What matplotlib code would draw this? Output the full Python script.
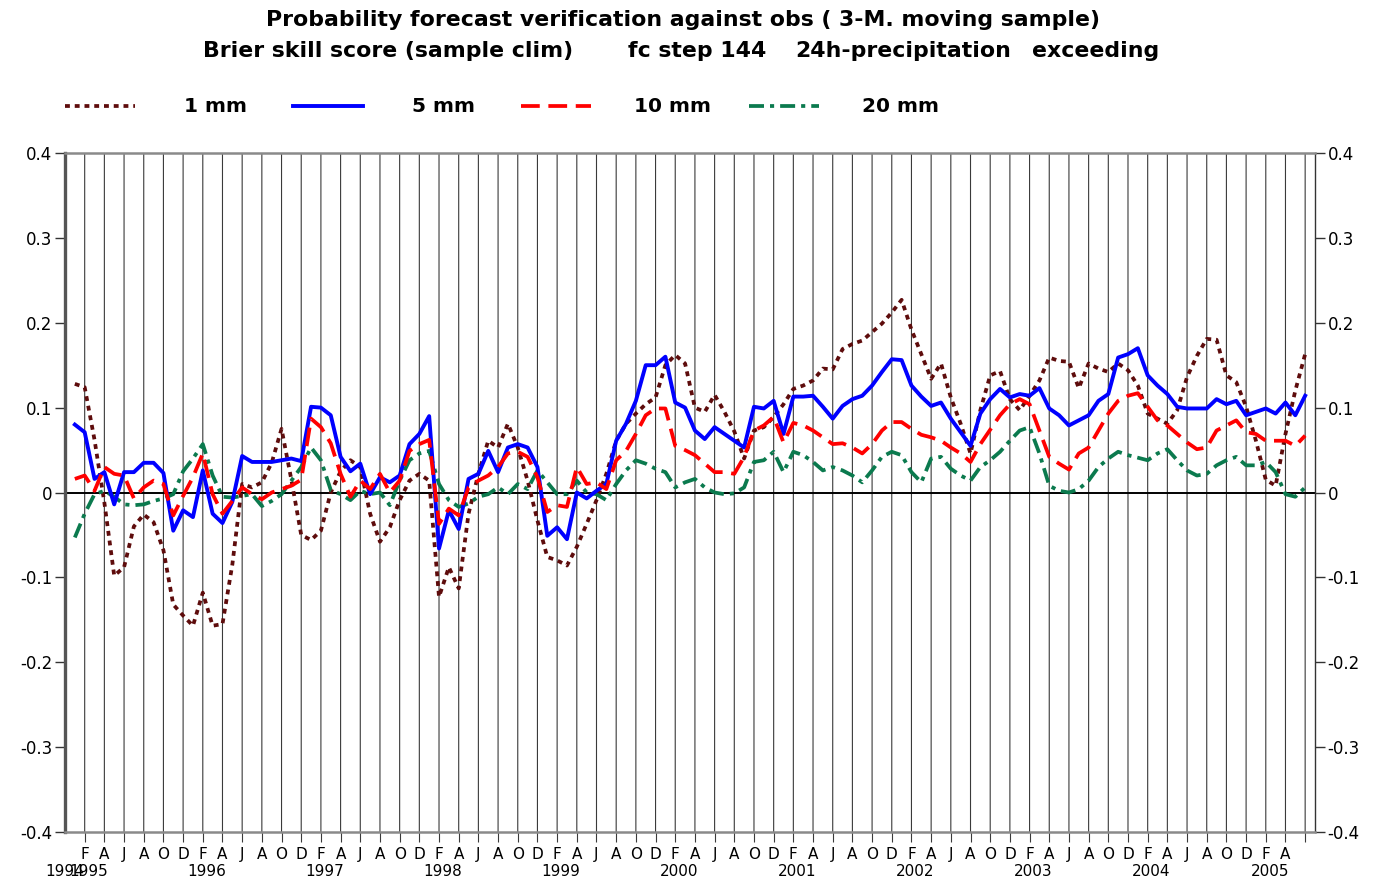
import matplotlib
matplotlib.use('Agg')
import matplotlib.pyplot as plt
import matplotlib.transforms as mtransforms
from matplotlib.lines import Line2D
import numpy as np

plt.rcParams['font.family'] = ['DejaVu Sans']
plt.rcParams['axes.unicode_minus'] = False

# monthly values, Jan 1995 .. Jun 2005 (x = months after Dec 1994)
start_year = 1995
bss_1mm = [
    0.128, 0.124, 0.062, -0.012, -0.098, -0.088, -0.040, -0.026, -0.035, -0.068,
    -0.132, -0.145, -0.157, -0.118, -0.157, -0.155, -0.085, 0.010, 0.006, 0.012,
    0.035, 0.075, 0.015, -0.050, -0.056, -0.045, 0.000, 0.025, 0.038, 0.030,
    -0.025, -0.058, -0.041, -0.009, 0.014, 0.022, 0.014, -0.123, -0.088, -0.113,
    -0.025, 0.022, 0.061, 0.053, 0.081, 0.053, 0.014, -0.033, -0.076, -0.080,
    -0.086, -0.064, -0.037, -0.009, 0.022, 0.061, 0.081, 0.093, 0.104, 0.112,
    0.150, 0.162, 0.152, 0.100, 0.095, 0.115, 0.095, 0.072, 0.040, 0.073,
    0.077, 0.089, 0.104, 0.122, 0.126, 0.132, 0.146, 0.145, 0.169, 0.175,
    0.179, 0.189, 0.199, 0.212, 0.227, 0.192, 0.163, 0.134, 0.152, 0.112,
    0.081, 0.046, 0.097, 0.138, 0.143, 0.110, 0.097, 0.114, 0.132, 0.159,
    0.155, 0.154, 0.123, 0.152, 0.146, 0.142, 0.152, 0.144, 0.126, 0.093,
    0.087, 0.081, 0.097, 0.136, 0.161, 0.181, 0.180, 0.138, 0.130, 0.101,
    0.061, 0.015, 0.008, 0.069, 0.120, 0.163]
bss_5mm = [
    0.080, 0.071, 0.016, 0.024, -0.014, 0.024, 0.024, 0.035, 0.035, 0.023,
    -0.045, -0.021, -0.029, 0.026, -0.025, -0.036, -0.011, 0.043, 0.036, 0.036,
    0.036, 0.038, 0.040, 0.037, 0.101, 0.100, 0.091, 0.042, 0.025, 0.034,
    -0.002, 0.018, 0.012, 0.020, 0.057, 0.069, 0.090, -0.066, -0.021, -0.043,
    0.016, 0.022, 0.049, 0.024, 0.053, 0.057, 0.053, 0.030, -0.051, -0.041,
    -0.055, 0.000, -0.007, 0.002, 0.010, 0.061, 0.081, 0.108, 0.150, 0.150,
    0.160, 0.106, 0.100, 0.073, 0.063, 0.077, 0.069, 0.061, 0.053, 0.101,
    0.099, 0.108, 0.069, 0.113, 0.113, 0.114, 0.101, 0.087, 0.102, 0.110,
    0.114, 0.126, 0.142, 0.157, 0.156, 0.126, 0.113, 0.102, 0.106, 0.087,
    0.071, 0.055, 0.093, 0.110, 0.122, 0.112, 0.116, 0.114, 0.123, 0.099,
    0.091, 0.079, 0.085, 0.091, 0.108, 0.116, 0.159, 0.163, 0.170, 0.138,
    0.126, 0.116, 0.101, 0.099, 0.099, 0.099, 0.110, 0.104, 0.108, 0.091,
    0.095, 0.099, 0.093, 0.106, 0.091, 0.114]
bss_10mm = [
    0.016, 0.020, 0.002, 0.030, 0.022, 0.020, -0.007, 0.006, 0.014, 0.010,
    -0.027, -0.004, 0.018, 0.046, -0.002, -0.025, -0.010, 0.006, -0.002, -0.008,
    0.000, 0.004, 0.008, 0.015, 0.087, 0.077, 0.058, 0.022, -0.005, 0.014,
    0.004, 0.022, 0.000, 0.014, 0.049, 0.057, 0.062, -0.037, -0.019, -0.027,
    0.006, 0.014, 0.020, 0.030, 0.046, 0.048, 0.042, 0.018, -0.023, -0.015,
    -0.017, 0.030, 0.010, 0.012, 0.004, 0.038, 0.049, 0.069, 0.091, 0.099,
    0.099, 0.055, 0.050, 0.044, 0.034, 0.024, 0.024, 0.022, 0.042, 0.073,
    0.079, 0.089, 0.059, 0.082, 0.079, 0.073, 0.065, 0.057, 0.058, 0.053,
    0.046, 0.057, 0.073, 0.083, 0.083, 0.075, 0.068, 0.065, 0.061, 0.053,
    0.046, 0.036, 0.057, 0.074, 0.091, 0.104, 0.110, 0.104, 0.073, 0.042,
    0.034, 0.027, 0.046, 0.053, 0.073, 0.093, 0.108, 0.114, 0.117, 0.101,
    0.085, 0.079, 0.069, 0.059, 0.051, 0.053, 0.073, 0.079, 0.085, 0.071,
    0.069, 0.061, 0.061, 0.061, 0.055, 0.067]
bss_20mm = [
    -0.053, -0.025, -0.002, 0.002, -0.005, -0.014, -0.015, -0.014, -0.010, -0.007,
    -0.002, 0.025, 0.040, 0.057, 0.020, -0.005, -0.006, -0.004, -0.002, -0.016,
    -0.010, -0.002, 0.014, 0.030, 0.053, 0.038, 0.003, -0.002, -0.009, 0.002,
    -0.002, 0.000, -0.015, 0.014, 0.038, 0.046, 0.049, 0.010, -0.009, -0.017,
    -0.013, -0.005, -0.002, 0.006, -0.002, 0.010, 0.004, 0.026, 0.012, -0.002,
    -0.002, 0.014, 0.000, -0.002, -0.009, 0.010, 0.026, 0.038, 0.034, 0.028,
    0.024, 0.006, 0.012, 0.016, 0.006, 0.000, -0.002, -0.001, 0.006, 0.036,
    0.038, 0.048, 0.024, 0.048, 0.044, 0.036, 0.026, 0.030, 0.026, 0.020,
    0.012, 0.026, 0.042, 0.048, 0.044, 0.024, 0.012, 0.040, 0.042, 0.028,
    0.020, 0.014, 0.030, 0.038, 0.048, 0.061, 0.073, 0.077, 0.046, 0.008,
    0.002, 0.000, 0.004, 0.014, 0.030, 0.040, 0.048, 0.044, 0.041, 0.038,
    0.046, 0.051, 0.038, 0.026, 0.020, 0.022, 0.032, 0.038, 0.042, 0.032,
    0.032, 0.036, 0.024, -0.002, -0.005, 0.006]

labels = ['1 mm', '5 mm', '10 mm', '20 mm']
month_letters = ['J', 'F', 'M', 'A', 'M', 'J', 'J', 'A', 'S', 'O', 'N', 'D']
years = list(range(1994, 2006))
ytick_vals = [0.4, 0.3, 0.2, 0.1, 0, -0.1, -0.2, -0.3, -0.4]
ytick_text = ['0.4', '0.3', '0.2', '0.1', '0', '-0.1', '-0.2', '-0.3', '-0.4']

W, H = 1377, 882
fig = plt.figure(figsize=(W / 100, H / 100), dpi=100)
ax = fig.add_axes([65 / W, 50 / H, 1250 / W, 679 / H])

n = len(bss_1mm)
x = np.arange(1, n + 1)
xmax = n + 1

# vertical grid every second month
gticks = np.arange(2, xmax, 2)
for g in gticks:
    ax.axvline(g, color='#3a3a3a', lw=0.8, snap=False, zorder=1)
ax.axhline(0, color='black', lw=1.4, zorder=2)

styles = [
    dict(color='#5e0c0c', lw=2.7, ls=(0, (1.3, 1.3)), dash_capstyle='butt', zorder=3),
    dict(color='#0000ff', lw=2.8, ls='-', zorder=4),
    dict(color='#ff0000', lw=2.7, ls=(0, (5, 2.3)), zorder=4),
    dict(color='#0b7a4e', lw=2.7, ls=(0, (4, 1.6, 1.1, 1.6)), zorder=3),
]
for vals, st in zip([bss_1mm, bss_5mm, bss_10mm, bss_20mm], styles):
    ax.plot(x, vals, **st)

ax.set_xlim(0, xmax)
ax.set_ylim(-0.4, 0.4)
ax.set_yticks(ytick_vals)
ax.set_yticklabels(ytick_text)
ax.tick_params(axis='y', which='both', left=True, right=True, labelleft=True,
               labelright=True, direction='out', length=7, width=1,
               color='#333333', labelsize=12, pad=2)

# month letters under every second gridline; the last gridline has none
mlabels = [month_letters[(g - 1) % 12] for g in gticks]
mlabels[-1] = ''
ax.set_xticks(gticks)
ax.set_xticklabels(mlabels)
ax.tick_params(axis='x', direction='out', length=7, width=0.8,
               color='#3a3a3a', labelsize=11, pad=4)

for s in ['top', 'bottom']:
    ax.spines[s].set_color('#8a8a8a')
    ax.spines[s].set_linewidth(1.8)
ax.spines['left'].set_color('#555555')
ax.spines['left'].set_linewidth(2.4)
ax.spines['right'].set_color('#333333')
ax.spines['right'].set_linewidth(1.0)

trans = mtransforms.blended_transform_factory(ax.transData, ax.transAxes)
for yr in years:
    pos = 0 if yr < start_year else (yr - start_year) * 12 + 2.4
    ax.text(pos, -0.058, str(yr), transform=trans, ha='center', va='center',
            fontsize=11)

fig.text(683 / W, 1 - 20 / H,
         'Probability forecast verification against obs ( 3-M. moving sample)',
         ha='center', va='center', fontsize=15.8, fontweight='bold')
for txt, xp in [('Brier skill score (sample clim)', 203), ('fc step 144', 628),
                ('24h-precipitation', 795), ('exceeding', 1032)]:
    fig.text(xp / W, 1 - 51 / H, txt, ha='left', va='center',
             fontsize=15.8, fontweight='bold')

# legend row drawn by hand: sample line, then label
leg_y = 1 - 106 / H
for k, (lab, st) in enumerate(zip(labels, styles)):
    x0 = 65 + 228 * k
    st2 = {key: v for key, v in st.items() if key != 'zorder'}
    fig.add_artist(Line2D([x0 / W, (x0 + 70) / W], [leg_y, leg_y],
                          transform=fig.transFigure, **st2))
    fig.text((x0 + 151) / W, leg_y, lab, ha='center', va='center',
             fontsize=14.5, fontweight='bold')

plt.savefig('out.png', dpi=100)
